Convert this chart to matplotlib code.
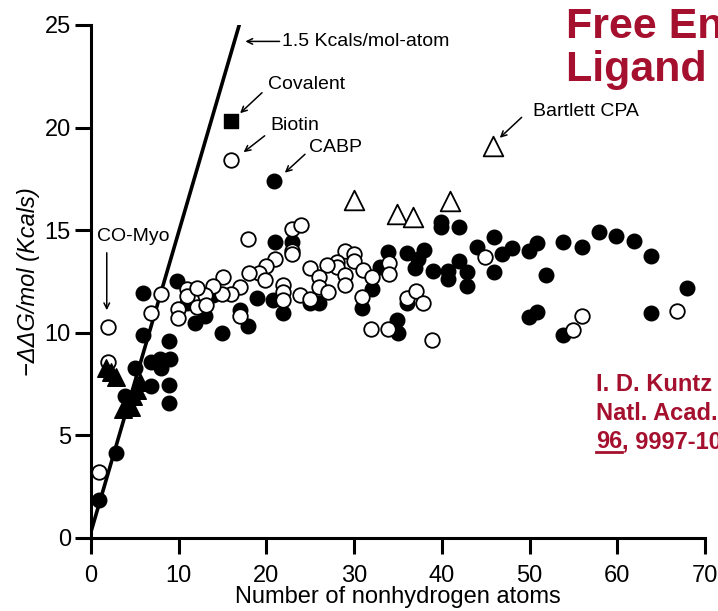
import matplotlib
matplotlib.use("Agg")
import matplotlib.pyplot as plt
from matplotlib.lines import Line2D

plt.rcParams['font.family'] = ['Liberation Sans', 'DejaVu Sans']

# filled circles
filled_x = [0.9, 2.9, 3.9, 5.0, 5.95, 5.96, 6.9, 6.9, 7.9, 8.0, 8.9, 9.0, 8.9, 8.9, 9.8,
            21.0, 22.95, 13.9, 11.0, 18.9, 20.8, 21.9, 13.0, 11.9, 17.9, 14.9, 17.0, 20.9,
            33.9, 36.0, 36.9, 32.95, 32.0, 30.9, 25.0, 26.0, 34.85, 35.0, 36.0,
            39.9, 39.9, 41.9, 38.0, 37.3, 39.0, 40.7, 40.7, 41.9, 42.9, 42.9, 45.9, 44.0,
            47.95, 46.9, 45.9, 50.9, 49.9, 49.9, 50.9,
            53.85, 55.95, 57.96, 59.9, 61.9, 63.9, 51.9, 67.9, 63.9, 53.85]
filled_y = [1.85, 4.16, 6.9, 8.27, 11.95, 9.9, 8.6, 7.4, 8.7, 8.3, 9.6, 8.7, 7.45, 6.6, 12.5,
            14.44, 14.44, 11.84, 11.44, 11.68, 11.6, 10.95, 10.82, 10.5, 10.33, 10.0, 11.1, 17.4,
            13.95, 13.87, 13.14, 13.22, 12.12, 11.2, 11.44, 11.44, 10.6, 9.97, 11.45,
            15.4, 15.17, 15.14, 14.03, 13.6, 13.03, 13.03, 12.6, 13.5, 12.98, 12.28, 14.68, 14.2,
            14.12, 13.84, 12.98, 14.4, 14.0, 10.78, 11.0,
            14.44, 14.17, 14.93, 14.72, 14.49, 13.74, 12.82, 12.17, 10.95, 9.9]

# open circles
open_x = [0.9, 1.97, 1.9, 8.0, 6.9, 9.9, 9.9, 11.0, 10.9,
          17.9, 22.9, 22.95, 22.95, 21.0, 20.0, 19.1, 18.0, 19.8, 17.0, 16.0, 15.0, 14.9,
          13.9, 13.0, 12.05, 12.05, 13.1, 17.0, 21.9, 21.9, 21.9, 23.8, 16.0,
          24.0, 29.0, 30.0, 30.0, 28.0, 28.0, 26.9, 25.0, 26.0, 29.0, 29.0, 26.0, 27.05,
          25.0, 31.05, 32.0, 34.0, 34.0, 30.9, 36.0, 37.0, 37.9, 31.9, 33.9,
          44.9, 38.9, 55.95, 54.9, 66.85]
open_y = [3.2, 10.3, 8.6, 11.9, 10.95, 11.15, 10.7, 12.15, 11.8,
          14.56, 15.05, 14.0, 13.85, 13.6, 13.25, 12.9, 12.93, 12.57, 12.25, 11.9, 12.7, 11.9,
          12.3, 11.85, 12.17, 11.25, 11.35, 10.8, 12.33, 12.0, 11.6, 11.85, 18.4,
          15.25, 14.0, 13.84, 13.5, 13.47, 13.22, 13.3, 13.14, 12.7, 12.8, 12.33, 12.25, 12.0,
          11.63, 13.06, 12.74, 13.4, 12.87, 11.76, 11.68, 12.05, 11.47, 10.17, 10.17,
          13.68, 9.65, 10.83, 10.14, 11.08]

# triangles and the covalent square
tri_filled_x = [1.7, 2.3, 2.9, 3.7, 4.2, 4.6, 4.8, 5.3, 5.6]
tri_filled_y = [8.3, 8.1, 7.85, 6.3, 6.5, 6.4, 6.9, 7.2, 7.6]
tri_open_x = [30.0, 34.9, 36.75, 40.9, 45.8]
tri_open_y = [16.47, 15.8, 15.66, 16.44, 19.1]
square_x = [16.0]
square_y = [20.3]

# 1.5 kcal/mol-atom line
line_x = [0, 16.9]
line_y = [0.3, 25]

red = '#a5102e'

fig = plt.figure(figsize=(7.18, 6.11), dpi=100)
ax = fig.add_axes([0.1267, 0.1195, 0.8552, 0.8396])

ax.plot(line_x, line_y, color='black', lw=2.6, zorder=1)
ax.scatter(filled_x, filled_y, s=110, color='black', zorder=2)
ax.scatter(open_x, open_y, s=110, facecolor='white', edgecolor='black', lw=1.3, zorder=3)
ax.scatter(tri_filled_x, tri_filled_y, s=160, marker='^', color='black', zorder=4)
ax.scatter(tri_open_x, tri_open_y, s=200, marker='^', facecolor='white',
           edgecolor='black', lw=1.3, zorder=4)
ax.scatter(square_x, square_y, s=110, marker='s', color='black', zorder=4)

ax.set_xlim(0, 70)
ax.set_ylim(0, 25)
ax.set_xticks(range(0, 71, 10))
ax.set_yticks(range(0, 26, 5))
for s in ['top', 'right']:
    ax.spines[s].set_visible(False)
for s in ['left', 'bottom']:
    ax.spines[s].set_linewidth(2.2)
ax.tick_params(direction='out', length=11.5, width=2.2, labelsize=17, pad=3)
ax.tick_params(axis='x', pad=8)
ax.set_xlabel('Number of nonhydrogen atoms', fontsize=17, labelpad=-1)
ax.set_ylabel('\u2212\u0394\u0394G/mol (Kcals)', fontsize=17, style='italic',
              fontweight='medium', labelpad=3)

# labels with arrows
arrow = dict(arrowstyle='->', lw=1.1, color='black', shrinkA=0, shrinkB=0)
notes = [
    ('1.5 Kcals/mol-atom', 21.8, 24.2, (17.6, 24.2), (21.5, 24.2)),
    ('Covalent', 20.2, 22.1, (17.0, 20.7), (19.5, 21.7)),
    ('Biotin', 20.4, 20.1, (17.4, 18.8), (19.8, 19.6)),
    ('CABP', 24.9, 19.05, (22.1, 17.8), (24.4, 18.7)),
    ('Bartlett CPA', 50.4, 20.8, (46.6, 19.5), (49.1, 20.5)),
]
for txt, tx, ty, head, tail in notes:
    ax.text(tx, ty, txt, fontsize=14, va='center', ha='left')
    ax.annotate('', xy=head, xytext=tail, arrowprops=arrow)
ax.text(0.7, 14.7, 'CO-Myo', fontsize=14, va='center', ha='left')
ax.annotate('', xy=(1.8, 11.1), xytext=(1.8, 13.9), arrowprops=arrow)

# slide title and reference
fig.text(566 / 718, 1 - 27 / 611, 'Free Energy of', color=red, fontsize=31,
         fontweight='bold', va='center', ha='left')
fig.text(566 / 718, 1 - 70 / 611, 'Ligand Binding', color=red, fontsize=31,
         fontweight='bold', va='center', ha='left')

cx = 596 / 718
fig.text(cx, 1 - 384 / 611, 'I. D. Kuntz et al., Proc.', color=red, fontsize=17,
         fontweight='bold', va='center', ha='left')
fig.text(cx, 1 - 413 / 611, 'Natl. Acad. Sci. USA', color=red, fontsize=17,
         fontweight='bold', va='center', ha='left')
t96 = fig.text(cx, 1 - 442 / 611, '96', color=red, fontsize=17,
               fontweight='bold', va='center', ha='left')
fig.canvas.draw()
bb = t96.get_window_extent()
fig.text(bb.x1 / 718, 1 - 442 / 611, ', 9997-10002 (1999)', color=red, fontsize=17,
         fontweight='bold', va='center', ha='left')
fig.add_artist(Line2D([bb.x0 / 718, bb.x1 / 718], [(bb.y0 + 2) / 611, (bb.y0 + 2) / 611],
                      transform=fig.transFigure, color=red, lw=2))

fig.savefig('out.png', dpi=100)
